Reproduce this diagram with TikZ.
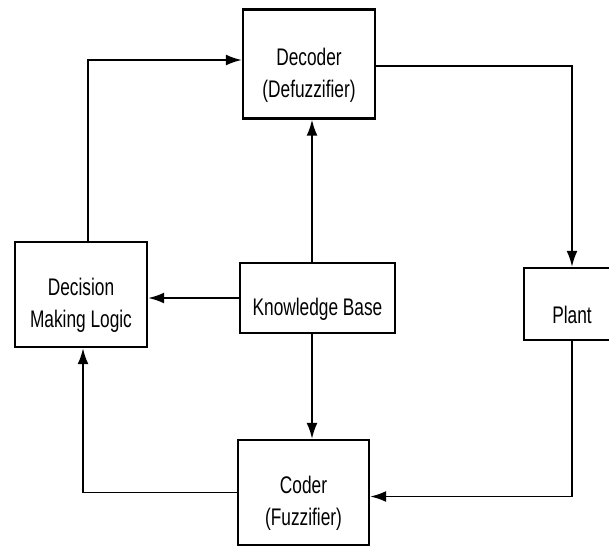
\documentclass[tikz,border=0pt]{standalone}
\usepackage{fontspec}
\setmainfont{Liberation Sans}[FakeStretch=0.72]
\usetikzlibrary{arrows.meta}

\providecommand*{\picW}{}
\providecommand*{\picH}{}
\renewcommand*{\picW}{609}
\renewcommand*{\picH}{547}

\tikzset{
  block/.style={draw, line width=2.4pt, inner sep=0pt},
  boxtext/.style={align=center, yshift=-11pt, font=\fontsize{24}{32}\selectfont},
  flow/.style={line width=1.9pt, -{Latex[length=16pt,width=11pt]}},
}

\begin{document}
\begin{tikzpicture}[x=1pt,y=-1pt]
  \useasboundingbox (0,0) rectangle (\picW,\picH);
  \clip (0,0) rectangle (\picW,\picH);

  % blocks
  \node [block, minimum width=132pt, minimum height=109pt,
    label={[boxtext]center:Decoder\\(Defuzzifier)}] (dec) at (309,64) {};
  \node [block, minimum width=132pt, minimum height=105pt,
    label={[boxtext]center:Decision\\Making Logic}] (dml) at (81,294.5) {};
  \node [block, minimum width=155pt, minimum height=70pt,
    label={[boxtext]center:Knowledge Base}] (kb) at (317.5,298) {};
  \node [block, minimum width=96pt, minimum height=72pt,
    label={[boxtext]center:Plant}] (plant) at (572,304) {};
  \node [block, minimum width=131pt, minimum height=105pt,
    label={[boxtext]center:Coder\\(Fuzzifier)}] (cod) at (303.5,492.5) {};

  \coordinate (kbtop) at ([xshift=-5.5pt]kb.north);
  \coordinate (kbbot) at ([xshift=-5.5pt]kb.south);

  % loop
  \draw [flow] ([xshift=7pt]dml.north) |- ([yshift=4pt]dec.west);
  \draw [flow] ([yshift=-2pt]dec.east) -| (plant.north);
  \draw [flow] (plant.south) |- ([yshift=-4pt]cod.east);
  \draw [flow] (cod.west) -| ([xshift=2pt]dml.south);

  % knowledge base
  \draw [flow] (kbtop) -- (kbtop |- dec.south);
  \draw [flow] (kb.west) -- (kb.west -| dml.east);
  \draw [flow] (kbbot) -- (kbbot |- cod.north);
\end{tikzpicture}
\end{document}
